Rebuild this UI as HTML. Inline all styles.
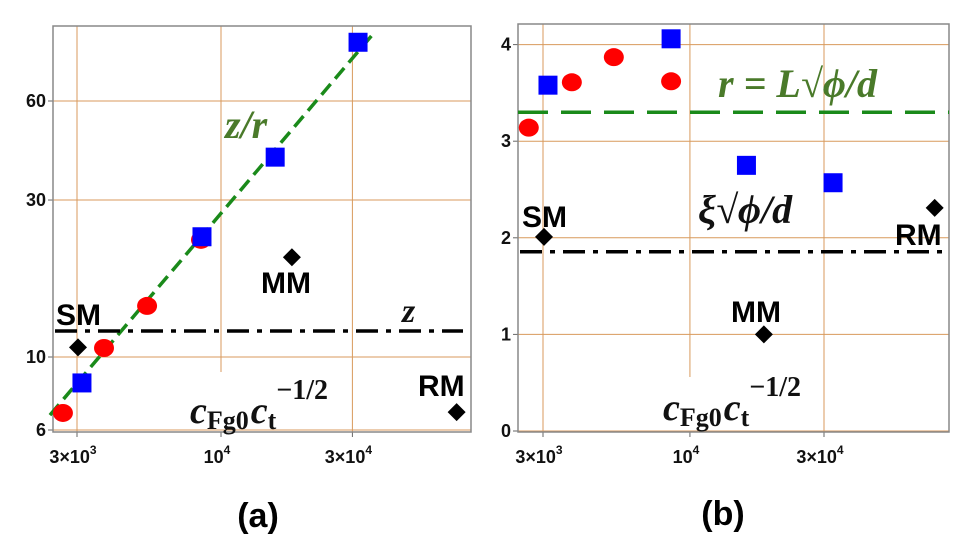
<!DOCTYPE html>
<html><head><meta charset="utf-8"><style>
html,body{margin:0;padding:0;background:#fff;}
svg{display:block;}
text{font-family:"Liberation Sans",sans-serif;}
.tick{font-size:18px;font-weight:bold;fill:#111;}
.lab{font-size:30px;font-weight:bold;fill:#000;}
.math{font-family:"Liberation Serif",serif;font-weight:bold;font-style:italic;}
</style></head><body>
<svg id="fig" width="977" height="542" viewBox="0 0 977 542"></svg>
<script>
// Panel (a) data (log-log)
const aRedX=[2667,3760,5390,8460];
const aRedY=[6.76,10.65,14.3,22.7];
const aBlueX=[3127,8530,15730,31450];
const aBlueY=[8.34,23.2,40.5,90.5];
const aBlackX=[3025,18090,71700];
const aBlackY=[10.7,20.1,6.8];
const aFitX=[2393,36140];
const aFitY=[6.66,97.2];
const aZLine=12.0;
const aYTicks=[6,10,30,60];
const aXTicks=[3000,10000,30000];
// Panel (b) data (log x, linear y)
const bRedX=[2670,3800,5360,8570];
const bRedY=[3.14,3.61,3.87,3.62];
const bBlueX=[3125,8570,15890,32310];
const bBlueY=[3.58,4.06,2.75,2.57];
const bBlackX=[3025,18330,74300];
const bBlackY=[2.01,1.0,2.31];
const bRLine=3.30;
const bXiLine=1.855;
const bYTicks=[0,1,2,3,4];
const bXTicks=[3000,10000,30000];
const xTickLabels=['3×10','10','3×10'];
const xTickSups=['3','4','4'];

const NS='http://www.w3.org/2000/svg';
const svg=document.getElementById('fig');
function el(tag,attrs,parent,txt){
  const e=document.createElementNS(NS,tag);
  for(const k in attrs)e.setAttribute(k,attrs[k]);
  if(txt!==undefined)e.textContent=txt;
  (parent||svg).appendChild(e);return e;
}
const axA={x:v=>77+275.4*Math.log10(v/3000), y:v=>357-329*Math.log10(v/10)};
const axB={x:v=>543+281*Math.log10(v/3000), y:v=>431-96.6*v};

function frame(g,x0,x1,y0,y1){
  const r=el('rect',{x:x0,y:y0,width:x1-x0,height:y1-y0,fill:'none',stroke:'#888','stroke-width':1.5},g);
  
  
}
function grid(g,ax,xt,yt,x0,x1,y0,y1,yStop){
  xt.forEach((v,i)=>{
    const x=ax.x(v);
    const l=el('line',{x1:x,x2:x,y1:y0,y2:(i===1?yStop:y1),stroke:'#d89a5c','stroke-width':1},g);
    
    
    const t=el('text',{x:x-4,y:y1+31,'text-anchor':'middle',class:'tick'},g);
    
    
    t.textContent=xTickLabels[i];
    el('tspan',{dy:-9,'font-size':'12px'},t,xTickSups[i]);
    el('line',{x1:x,x2:x,y1:y1,y2:y1+5,stroke:'#666'},g);
  });
  yt.forEach(v=>{
    const y=ax.y(v);
    const l=el('line',{x1:x0,x2:x1,y1:y,y2:y,stroke:'#d89a5c','stroke-width':1},g);
    
    
    const t=el('text',{x:x0-7,y:y+6,'text-anchor':'end',class:'tick'},g,String(v));
    
    
    el('line',{x1:x0-5,x2:x0,y1:y,y2:y,stroke:'#666'},g);
  });
}
function marks(g,ax,rx,ry,bx,by,kx,ky){
  rx.forEach((v,i)=>{
    const c=el('ellipse',{cx:ax.x(v),cy:ax.y(ry[i]),rx:10,ry:9,fill:'#f00'},g);
    
    
  });
  bx.forEach((v,i)=>{
    const s=el('rect',{x:ax.x(v)-9.5,y:ax.y(by[i])-9.5,width:19,height:19,fill:'#00f'},g);
    
    
  });
  kx.forEach((v,i)=>{
    const x=ax.x(v),y=ax.y(ky[i]);
    const d=el('polygon',{points:`${x},${y-9} ${x+9},${y} ${x},${y+9} ${x-9},${y}`,fill:'#000'},g);
    
    
  });
}
function formula(g,x,y){
  const t=el('text',{x:x,y:y,class:'math','font-size':'38px',fill:'#111'},g);
  
  
  el('tspan',{},t,'c');
  el('tspan',{'font-size':'26px','font-style':'normal',dy:6},t,'Fg0');
  el('tspan',{dy:-6,dx:2},t,'c');
  el('tspan',{'font-size':'26px','font-style':'normal',dy:6},t,'t');
  el('tspan',{'font-size':'28px','font-style':'normal',dy:-30,dx:0},t,'−1/2');
}
function label(g,txt,x,y,name,anchor){
  const t=el('text',{x:x,y:y,class:'lab','text-anchor':anchor||'start'},g,txt);
  
  
}

// Panel A
const gA=el('g',{});


grid(gA,axA,aXTicks,aYTicks,53,471,26,432,372);
frame(gA,53,471,26,432);
const fitA=el('line',{x1:axA.x(aFitX[0]),y1:axA.y(aFitY[0]),x2:axA.x(aFitX[1]),y2:axA.y(aFitY[1]),stroke:'#1a8a1a','stroke-width':3.5,'stroke-dasharray':'14,7'},gA);


const zA=el('line',{x1:55,x2:463,y1:axA.y(aZLine),y2:axA.y(aZLine),stroke:'#000','stroke-width':3.5,'stroke-dasharray':'22,8,5,8'},gA);


marks(gA,axA,aRedX,aRedY,aBlueX,aBlueY,aBlackX,aBlackY);
const zr=el('text',{x:225,y:138,class:'math','font-size':'40px',fill:'#4a7a2a'},gA,'z/r');


const zl=el('text',{x:402,y:322,class:'math','font-size':'34px',fill:'#111'},gA,'z');


label(gA,'SM',56,325,'sm-label');
label(gA,'MM',261,293,'mm-label');
label(gA,'RM',418,396,'rm-label');
formula(gA,190,423);
const pa=el('text',{x:258,y:527,'text-anchor':'middle','font-size':'34px','font-weight':'bold'},gA,'(a)');



// Panel B
const gB=el('g',{});


grid(gB,axB,bXTicks,bYTicks,518,949,24,432,377);
frame(gB,518,949,24,432);
const rB=el('line',{x1:518,x2:949,y1:axB.y(bRLine),y2:axB.y(bRLine),stroke:'#1a8a1a','stroke-width':3.5,'stroke-dasharray':'30,13'},gB);


const xiB=el('line',{x1:520,x2:942,y1:axB.y(bXiLine),y2:axB.y(bXiLine),stroke:'#000','stroke-width':3.5,'stroke-dasharray':'22,8,5,8'},gB);


marks(gB,axB,bRedX,bRedY,bBlueX,bBlueY,bBlackX,bBlackY);
const rl=el('text',{x:718,y:97,class:'math','font-size':'40px',fill:'#4a7a2a'},gB,'r = L√ϕ/d');


const xl=el('text',{x:698,y:223,class:'math','font-size':'40px',fill:'#111'},gB,'ξ√ϕ/d');


label(gB,'SM',522,227,'sm-label');
label(gB,'MM',731,322,'mm-label');
label(gB,'RM',895,245,'rm-label');
formula(gB,663,420);
const pb=el('text',{x:723,y:525,'text-anchor':'middle','font-size':'34px','font-weight':'bold'},gB,'(b)');


</script>
</body></html>
